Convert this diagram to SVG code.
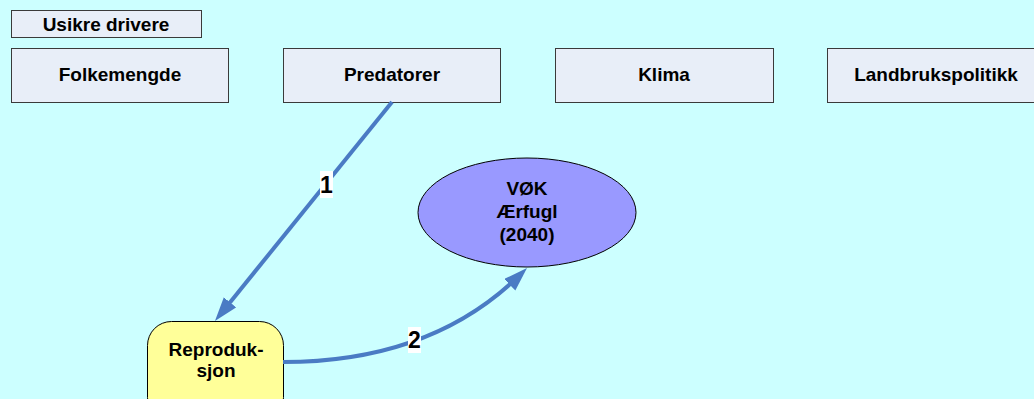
<svg xmlns="http://www.w3.org/2000/svg" width="1034" height="399" viewBox="0 0 1034 399">
<style>
.box{fill:#E8EEF8;stroke:#3a3a3a;stroke-width:1}
.t{font-family:"Liberation Sans",Arial,sans-serif;font-weight:bold;font-size:19px;fill:#000;text-anchor:middle}
.n{font-size:23px}
.c{fill:none;stroke:#4A7BC4;stroke-width:4}
.lbl{fill:#fff}
</style>
<defs>
<marker id="ah" markerUnits="userSpaceOnUse" markerWidth="26" markerHeight="18" refX="12" refY="8" orient="auto">
<path d="M0,0 L24,8 L0,16 z" fill="#4A7BC4"/>
</marker>
</defs>
<rect width="1034" height="399" fill="#CCFFFF"/>
<g id="usikre"><rect class="box" x="11.5" y="10.5" width="190" height="27"/><text class="t" x="106" y="31">Usikre drivere</text></g>
<g id="folkemengde"><rect class="box" x="11.5" y="48.5" width="217" height="54"/><text class="t" x="120" y="81">Folkemengde</text></g>
<g id="predatorer"><rect class="box" x="283.5" y="48.5" width="217" height="54"/><text class="t" x="392" y="81">Predatorer</text></g>
<g id="klima"><rect class="box" x="555.5" y="48.5" width="218" height="54"/><text class="t" x="664" y="81">Klima</text></g>
<g id="landbruk"><rect class="box" x="827.5" y="48.5" width="220" height="54"/><text class="t" x="936" y="81">Landbrukspolitikk</text></g>
<g id="vok"><ellipse cx="527" cy="212.5" rx="109" ry="54.5" fill="#9999FF" stroke="#000" stroke-width="1"/><text class="t" x="527" y="195">VØK</text><text class="t" x="527" y="218">Ærfugl</text><text class="t" x="527" y="241">(2040)</text></g>
<g id="reproduksjon"><rect x="147.5" y="321.5" width="136" height="100" rx="24" fill="#FFFF99" stroke="#000" stroke-width="1"/><text class="t" x="216" y="356">Reproduk-</text><text class="t" x="216" y="377">sjon</text></g>
<g id="connectors">
<path class="c" d="M392,102 L222.5,311.7" marker-end="url(#ah)"/>
<path class="c" d="M283,362 Q430,362 518.4,276.4" marker-end="url(#ah)"/>
<rect class="lbl" x="320" y="171" width="13" height="27"/><text class="t n" x="326.5" y="193">1</text>
<rect class="lbl" x="408" y="327" width="13" height="26"/><text class="t n" x="414.5" y="348">2</text>
</g>
</svg>
